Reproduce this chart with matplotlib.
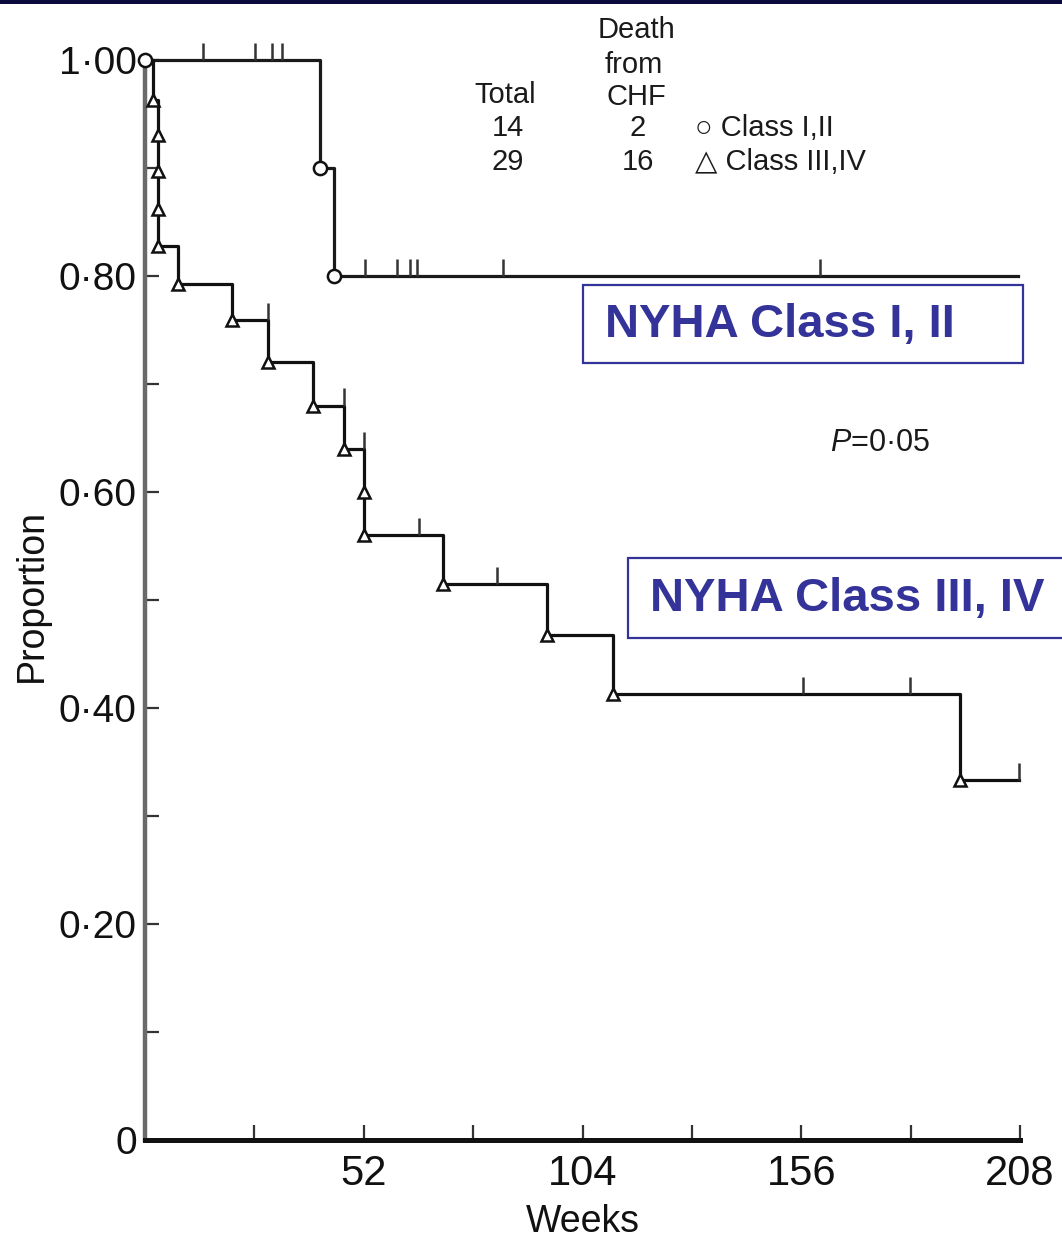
import numpy as np
import matplotlib
matplotlib.use('Agg')
import matplotlib.pyplot as plt
from matplotlib.patches import Rectangle

W, H = 1062, 1240

# ---------------- data ----------------
class12_event_weeks = [41.6, 45.0]
class12_surv = [0.90, 0.80]
class12_censor_weeks = [13.8, 26.1, 30.3, 32.5, 52.3, 59.8, 63.0, 64.7, 85.0, 160.4]
class12_end_week = 207.5

class34_event_weeks = [1.9, 3.1, 3.1, 3.1, 3.1, 7.8, 20.7, 29.3, 39.9, 47.3,
                       52.0, 52.0, 70.8, 95.5, 111.2, 193.7]
class34_surv = [0.963, 0.931, 0.897, 0.862, 0.828, 0.793, 0.759, 0.720, 0.680,
                0.640, 0.600, 0.560, 0.515, 0.468, 0.413, 0.333]
class34_censor_weeks = [29.3, 47.3, 52.0, 65.1, 83.7, 156.4, 181.8, 207.7]

x_ticks = [0, 26, 52, 78, 104, 130, 156, 182, 208]
x_ticklabels = ['', '', '52', '', '104', '', '156', '', '208']
y_ticks = [0, 0.1, 0.2, 0.3, 0.4, 0.5, 0.6, 0.7, 0.8, 0.9, 1.0]
y_ticklabels = ['0', '', '0·20', '', '0·40', '', '0·60', '', '0·80', '', '1·00']

table_totals = ['14', '29']
table_deaths = ['2', '16']
group_labels = ['○ Class I,II', '△ Class III,IV']
box_labels = ['NYHA Class I, II', 'NYHA Class III, IV']
# ----------------------------------------------------------------

plt.rcParams['font.family'] = ['Liberation Sans', 'DejaVu Sans']
plt.rcParams['mathtext.fontset'] = 'custom'
plt.rcParams['mathtext.it'] = 'Liberation Sans:italic'
plt.rcParams['mathtext.rm'] = 'Liberation Sans'

fig = plt.figure(figsize=(W / 100, H / 100), dpi=100)
fig.patch.set_facecolor('white')


def fx(x):
    return x / W


def fy(y):
    return 1 - y / H


ax = fig.add_axes([fx(145), fy(1140), fx(875), 1080 / H])
ax.set_xlim(0, 208)
ax.set_ylim(0, 1.0)
ax.set_facecolor('white')
for s in ['top', 'right']:
    ax.spines[s].set_visible(False)
ax.spines['left'].set_color('#6a6a6a')
ax.spines['left'].set_linewidth(3.2)
ax.spines['bottom'].set_color('#111111')
ax.spines['bottom'].set_linewidth(3.6)

ax.set_xticks(x_ticks)
ax.set_xticklabels(x_ticklabels)
ax.set_yticks(y_ticks)
ax.set_yticklabels(y_ticklabels)
ax.tick_params(axis='x', direction='in', length=11, width=1.6, color='#333333',
               labelsize=30, pad=10, labelcolor='#111111')
ax.tick_params(axis='y', direction='in', length=10, width=1.6, color='#333333',
               labelsize=28, pad=6, labelcolor='#111111')


def km_curve(events, surv, end):
    t = np.concatenate([[0.0], events, [end]])
    s = np.concatenate([[1.0], surv, [surv[-1]]])
    return t, s


def level_at(events, surv, t):
    ev = np.asarray(events)
    sv = np.concatenate([[1.0], surv])
    idx = np.searchsorted(ev, t, side='left')
    return sv[idx]


lw = 2.3
tick_h = 0.016

# Class I, II
t1, s1 = km_curve(class12_event_weeks, class12_surv, class12_end_week)
ax.step(t1, s1, where='post', color='#1a1a1a', lw=lw, clip_on=False, zorder=3)
ax.plot([0] + class12_event_weeks, [1.0] + class12_surv, linestyle='none',
        marker='o', markersize=9.5, markerfacecolor='white',
        markeredgecolor='#111111', markeredgewidth=1.8, clip_on=False, zorder=5)
c1 = np.asarray(class12_censor_weeks)
l1 = level_at(class12_event_weeks, class12_surv, c1)
ax.vlines(c1, l1, l1 + tick_h, color='#333333', lw=1.8, clip_on=False, zorder=4)

# Class III, IV
end34 = max(class34_censor_weeks)
t2, s2 = km_curve(class34_event_weeks, class34_surv, end34)
ax.step(t2, s2, where='post', color='#111111', lw=lw, clip_on=False, zorder=3)
ax.plot(class34_event_weeks, class34_surv, linestyle='none',
        marker='^', markersize=9, markerfacecolor='white',
        markeredgecolor='#111111', markeredgewidth=1.8, clip_on=False, zorder=5)
c2 = np.asarray(class34_censor_weeks)
l2 = level_at(class34_event_weeks, class34_surv, c2)
ax.vlines(c2, l2, l2 + tick_h, color='#333333', lw=1.8, clip_on=False, zorder=4)

# axis titles
fig.text(fx(32), fy(595), 'Proportion', rotation=90, ha='center', va='center',
         fontsize=27, color='#111111')
fig.text(fx(583), fy(1222), 'Weeks', ha='center', va='center',
         fontsize=27, color='#111111')

# table / legend at top
tc = '#1a1a1a'
fs = 21
fig.text(fx(636), fy(30), 'Death', ha='center', va='center', fontsize=fs, color=tc)
fig.text(fx(634), fy(65), 'from', ha='center', va='center', fontsize=fs, color=tc)
fig.text(fx(636), fy(97), 'CHF', ha='center', va='center', fontsize=fs, color=tc)
fig.text(fx(505), fy(95), 'Total', ha='center', va='center', fontsize=fs, color=tc)
row_y = [128, 162]
for i in range(2):
    fig.text(fx(508), fy(row_y[i]), table_totals[i], ha='center', va='center',
             fontsize=fs, color=tc)
    fig.text(fx(638), fy(row_y[i]), table_deaths[i], ha='center', va='center',
             fontsize=fs, color=tc)
    fig.text(fx(695), fy(row_y[i]), group_labels[i], ha='left', va='center',
             fontsize=fs, color=tc)

fig.text(fx(830), fy(443), r'$P$=0·05', ha='left', va='center', fontsize=22, color=tc)

# NYHA boxes
navy = '#333399'
boxes = [(583, 285, 440, 78, 605, 325), (628, 558, 460, 80, 650, 599)]
for (bx, by, bw, bh, tx, ty), lab in zip(boxes, box_labels):
    fig.patches.append(Rectangle((fx(bx), fy(by + bh)), bw / W, bh / H,
                                 transform=fig.transFigure, facecolor='white',
                                 edgecolor=navy, linewidth=1.6, zorder=6))
    fig.text(fx(tx), fy(ty), lab, ha='left', va='center', fontsize=34,
             fontweight='bold', color=navy, zorder=7)

# dark top bar
fig.patches.append(Rectangle((0, fy(4)), 1, 4 / H, transform=fig.transFigure,
                             facecolor='#0a0a3c', edgecolor='none', zorder=10))

fig.savefig('out.png', dpi=100, facecolor='white')
